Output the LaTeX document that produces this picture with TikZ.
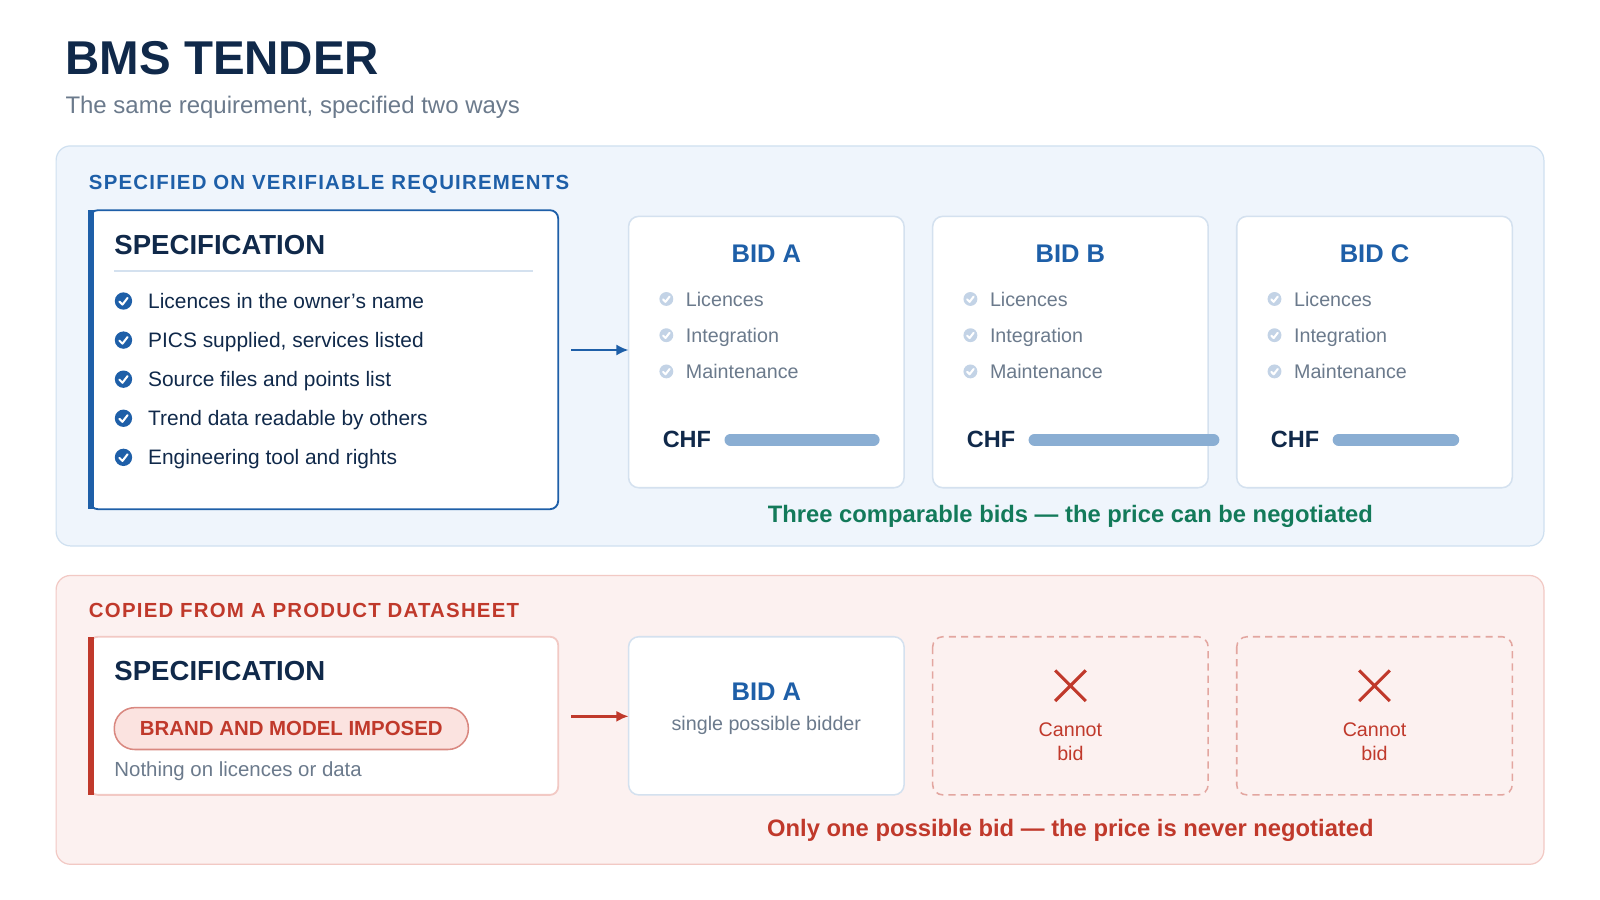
\documentclass[tikz,border=0pt]{standalone}
\usepackage{fontspec}
\setmainfont{Liberation Sans}
\usetikzlibrary{arrows.meta}
\definecolor{navy}{HTML}{10294A}
\definecolor{blue}{HTML}{1E5FA8}
\definecolor{gray}{HTML}{6B7A8C}
\definecolor{panelB}{HTML}{EFF5FC}
\definecolor{panelBb}{HTML}{CFE0F0}
\definecolor{cardb}{HTML}{D4E1EF}
\definecolor{barc}{HTML}{8AAED3}
\definecolor{lchk}{HTML}{C3D3E6}
\definecolor{green}{HTML}{137A5A}
\definecolor{red}{HTML}{C0392B}
\definecolor{panelR}{HTML}{FCF1F0}
\definecolor{panelRb}{HTML}{F2C9C4}
\definecolor{pill}{HTML}{FBE3E0}
\newcommand{\fs}[1]{\fontsize{#1}{#1}\selectfont}
\tikzset{
 panel/.style={rounded corners=14pt,line width=1.2pt},
 card/.style={draw=cardb,fill=white,rounded corners=10pt,line width=1.5pt},
 chk/.pic={\fill[#1] (0,0) circle (8.5pt); \draw[white,line width=2pt,line cap=round,line join=round] (-4,0.5)--(-1,3.5)--(4,-3);},
 item/.style={anchor=base west,inner sep=0,text=navy,font=\fs{20.5}},
 bitem/.style={anchor=base west,inner sep=0,text=gray,font=\fs{19.3}},
 bidt/.style={text=blue,font=\bfseries\fs{25}},
 chf/.style={anchor=west,text=navy,font=\bfseries\fs{23}},
 bar/.style={barc,line width=12pt,line cap=round},
}
\begin{document}
\begin{tikzpicture}[x=1pt,y=-1pt]
\useasboundingbox (0,0) rectangle (1568,882);
\fill[white] (0,0) rectangle (1568,882);
\node[anchor=base west,inner sep=0,text=navy,font=\bfseries\fs{46.5}] (title) at (64,73) {BMS TENDER};
\node[anchor=base west,inner sep=0,text=gray,font=\fs{23.5}] (sub) at (64,111) {The same requirement, specified two ways};
% top panel
\draw[panel,draw=panelBb,fill=panelB] (55,143) rectangle (1513,535);
\node[anchor=base west,inner sep=0,text=blue,font=\bfseries\fs{20}] (lt) at (87,186) {\addfontfeature{LetterSpace=6}SPECIFIED ON VERIFIABLE REQUIREMENTS};
\draw[fill=white,draw=blue,line width=1.8pt,rounded corners=8pt] (88,206) rectangle (547,499);
\fill[blue] (86,206) rectangle (92,499);
\node[anchor=base west,inner sep=0,text=navy,font=\bfseries\fs{27}] (st) at (112,249) {SPECIFICATION};
\draw[cardb,line width=2pt] (112,266) -- (522,266);
\foreach \t [count=\i] in {Licences in the owner’s name,{PICS supplied, services listed},Source files and points list,Trend data readable by others,Engineering tool and rights}{
 \pic at (121,{295+(\i-1)*38.3}) {chk=blue};
 \node[item] (it\i) at (145,{302+(\i-1)*38.3}) {\t};
}
\foreach \L/\x/\w in {A/616/146,B/914/181,C/1212/118}{
 \draw[card] (\x,212) rectangle (\x+270,478);
 \coordinate (card\L) at (\x,343);
 \node[bidt] (bid\L) at (\x+135,249) {BID \L};
 \foreach \t [count=\i] in {Licences,Integration,Maintenance}{
  \pic[scale=0.8] at (\x+37,{293+(\i-1)*35.5}) {chk=lchk};
  \node[bitem] (b\L\i) at (\x+56,{300+(\i-1)*35.5}) {\t};
 }
 \node[chf] (chf\L) at (\x+30,431) {CHF};
 \draw[bar] (\x+100,431) -- (\x+94+\w,431);
}
\coordinate (specT) at (560,343);
\draw[blue,line width=2.5pt,-{Latex[length=12pt,width=11pt]}] (specT) -- (cardA);
\node[text=green,font=\bfseries\fs{23.3}] (cap1) at (1049,506) {Three comparable bids — the price can be negotiated};
% bottom panel
\draw[panel,draw=panelRb,fill=panelR] (55,564) rectangle (1513,847);
\node[anchor=base west,inner sep=0,text=red,font=\bfseries\fs{20}] (lb) at (87,605) {\addfontfeature{LetterSpace=6}COPIED FROM A PRODUCT DATASHEET};
\draw[fill=white,draw=panelRb,line width=1.8pt,rounded corners=8pt] (88,624) rectangle (547,779);
\fill[red] (86,624) rectangle (92,779);
\node[anchor=base west,inner sep=0,text=navy,font=\bfseries\fs{27}] (st2) at (112,667) {SPECIFICATION};
\node[draw=red!60,fill=pill,line width=1.5pt,rounded corners=20pt,minimum width=347pt,minimum height=41pt,text=red,font=\bfseries\fs{20}] (pillnode) at (285.5,714) {BRAND AND MODEL IMPOSED};
\node[anchor=west,inner sep=0,text=gray,font=\fs{20}] (noth) at (112,756) {Nothing on licences or data};
\draw[card] (616,624) rectangle (886,779);
\coordinate (card2) at (616,702);
\coordinate (spec2) at (560,702);
\node[bidt] (bidA2) at (751,678) {BID A};
\node[text=gray,font=\fs{19.3}] (sing) at (751,711) {single possible bidder};
\draw[red,line width=2.5pt,-{Latex[length=12pt,width=11pt]}] (spec2) -- (card2);
\foreach \x/\n in {914/B,1212/C}{
 \draw[draw=red!45,fill=panelR,dash pattern=on 7pt off 5pt,line width=1.5pt,rounded corners=10pt] (\x,624) rectangle (\x+270,779);
 \draw[red,line width=3pt] (\x+120,657) -- (\x+150,687) (\x+120,687) -- (\x+150,657);
 \node[text=red,font=\fontsize{19.3}{24}\selectfont,align=center] (cb\n) at (\x+135,727) {Cannot\\bid};
}
\node[text=red,font=\bfseries\fs{23.3}] (cap2) at (1049,814) {Only one possible bid — the price is never negotiated};
\end{tikzpicture}
\end{document}
